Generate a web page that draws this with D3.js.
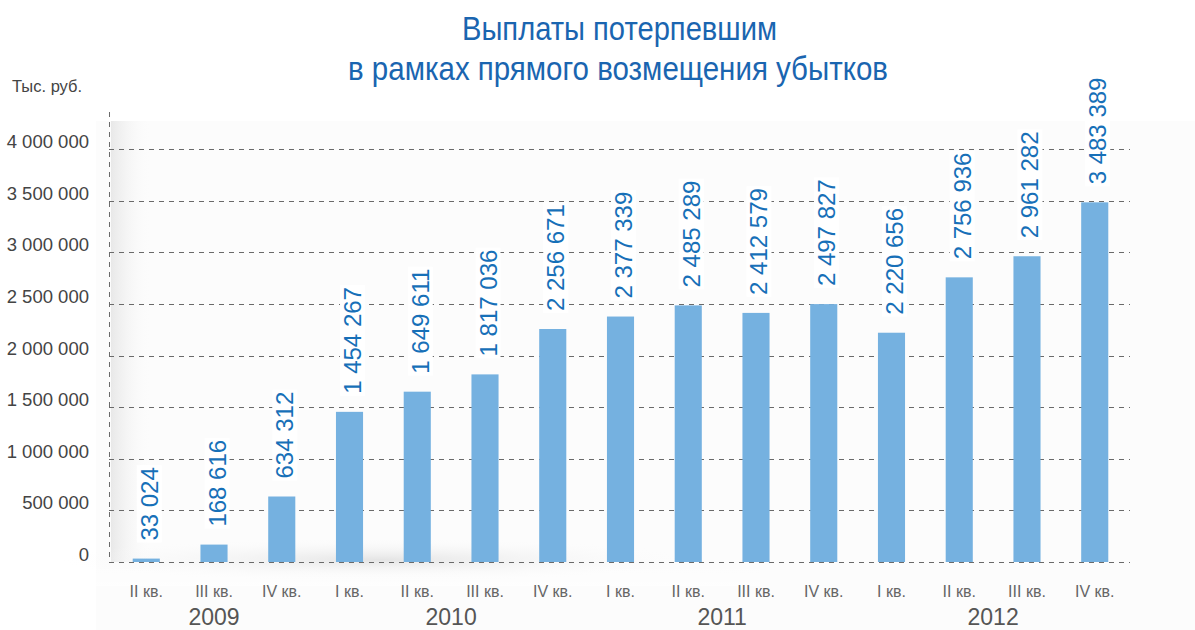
<!DOCTYPE html>
<html>
<head>
<meta charset="utf-8">
<script src="https://cdn.jsdelivr.net/npm/d3@7"></script>
<style>
  body { margin: 0; background: #fff; }
  svg { display: block; font-family: "Liberation Sans", Arial, sans-serif; }
</style>
</head>
<body>
<div id="chart"></div>
<script>
// data
const quarters = ["II кв.", "III кв.", "IV кв.", "I кв.", "II кв.", "III кв.", "IV кв.",
  "I кв.", "II кв.", "III кв.", "IV кв.", "I кв.", "II кв.", "III кв.", "IV кв."];
const payments = [33024, 168616, 634312, 1454267, 1649611, 1817036, 2256671,
  2377339, 2485289, 2412579, 2497827, 2220656, 2756936, 2961282, 3483389];
const years = ["2009", "2010", "2011", "2012"];
const quartersPerYear = [3, 4, 4, 4];
const yTicks = [0, 500000, 1000000, 1500000, 2000000, 2500000, 3000000, 3500000, 4000000];

const W = 1195, H = 630;
const svg = d3.select("#chart").append("svg").attr("width", W).attr("height", H);

const ids = quarters.map((q, i) => i);
const x = d3.scaleBand().domain(ids).range([109, 1132]).paddingInner(0.6).paddingOuter(0.35);
const y = d3.scaleLinear().domain([0, 4000000]).range([562, 149]);

// soft background
const defs = svg.append("defs");
const lg = defs.append("linearGradient").attr("id", "leftShade");
lg.append("stop").attr("offset", "0%").attr("stop-color", "#e8e8e8");
lg.append("stop").attr("offset", "100%").attr("stop-color", "#fcfcfc").attr("stop-opacity", 0);
const fadeTop = defs.append("linearGradient").attr("id", "fadeTop").attr("x1", 0).attr("x2", 0).attr("y1", 0).attr("y2", 1);
fadeTop.append("stop").attr("offset", "0%").attr("stop-color", "#fff").attr("stop-opacity", 0);
fadeTop.append("stop").attr("offset", "100%").attr("stop-color", "#fff").attr("stop-opacity", 1);
const rg = defs.append("radialGradient").attr("id", "bottomShade");
rg.append("stop").attr("offset", "0%").attr("stop-color", "#e4e4e4");
rg.append("stop").attr("offset", "100%").attr("stop-color", "#fcfcfc").attr("stop-opacity", 0);

svg.append("rect").attr("x", 96).attr("y", 121).attr("width", W - 96).attr("height", H - 121).attr("fill", "#fcfcfc");
svg.append("rect").attr("x", 111).attr("y", 121).attr("width", 40).attr("height", 441).attr("fill", "url(#leftShade)");
svg.append("ellipse").attr("cx", 380).attr("cy", 560).attr("rx", 320).attr("ry", 22).attr("fill", "url(#bottomShade)");
svg.append("rect").attr("x", 60).attr("y", 562).attr("width", 700).attr("height", 24).attr("fill", "url(#fadeTop)").attr("opacity", 0.6);

// grid (snapped to pixels)
const crisp = v => Math.round(v) + 0.5;
svg.append("g").selectAll("line").data(yTicks).join("line")
  .attr("x1", 109).attr("x2", 1130)
  .attr("y1", d => crisp(y(d))).attr("y2", d => crisp(y(d)))
  .attr("stroke", "#6a6a6a").attr("stroke-width", 1).attr("stroke-dasharray", "5,5");
svg.append("line").attr("x1", 109.5).attr("x2", 109.5).attr("y1", 112).attr("y2", 562)
  .attr("stroke", "#6a6a6a").attr("stroke-width", 1).attr("stroke-dasharray", "5,5");

// y labels
const fmt = v => d3.format(",")(v).replace(/,/g, " ");
svg.append("g").selectAll("text").data(yTicks).join("text")
  .attr("x", 89).attr("y", d => y(d) - 1)
  .attr("text-anchor", "end").attr("font-size", 18.5).attr("fill", "#444")
  .text(d => fmt(d));
svg.append("text").attr("x", 12).attr("y", 92).attr("font-size", 16.5).attr("fill", "#444").text("Тыс. руб.");

// bars
svg.append("g").selectAll("rect").data(ids).join("rect")
  .attr("x", i => x(i)).attr("width", x.bandwidth())
  .attr("y", i => y(payments[i])).attr("height", i => y(0) - y(payments[i]))
  .attr("fill", "#75b1e0");

// value labels
const lbl = svg.append("g").selectAll("g").data(ids).join("g")
  .attr("transform", i => `translate(${x(i) + x.bandwidth() / 2 + 3},${y(payments[i]) - 18}) rotate(-90)`);
lbl.append("text")
  .attr("font-size", 24).attr("fill", "#1770b8")
  .attr("dominant-baseline", "central")
  .text(i => fmt(payments[i]));
lbl.insert("rect", "text").each(function () {
  const b = this.nextSibling.getBBox();
  d3.select(this).attr("x", b.x - 2).attr("y", b.y + 1).attr("width", b.width + 4).attr("height", b.height - 2).attr("fill", "#fff");
});

// quarter labels
svg.append("g").selectAll("text").data(ids).join("text")
  .attr("x", i => x(i) + x.bandwidth() / 2).attr("y", 597)
  .attr("text-anchor", "middle").attr("font-size", 16).attr("fill", "#666")
  .text(i => quarters[i]);

// year labels
let start = 0;
years.forEach((yr, k) => {
  const n = quartersPerYear[k];
  const cx = d3.mean(d3.range(start, start + n), i => x(i) + x.bandwidth() / 2);
  svg.append("text").attr("x", cx).attr("y", 625).attr("text-anchor", "middle")
    .attr("font-size", 23).attr("fill", "#555").text(yr);
  start += n;
});

// title (condensed look via textLength)
const title = svg.append("g").attr("fill", "#1a65b0").attr("font-size", 33);
title.append("text").attr("x", 462).attr("y", 40)
  .attr("textLength", 315).attr("lengthAdjust", "spacingAndGlyphs").text("Выплаты потерпевшим");
title.append("text").attr("x", 348).attr("y", 80)
  .attr("textLength", 540).attr("lengthAdjust", "spacingAndGlyphs").text("в рамках прямого возмещения убытков");
</script>
</body>
</html>
